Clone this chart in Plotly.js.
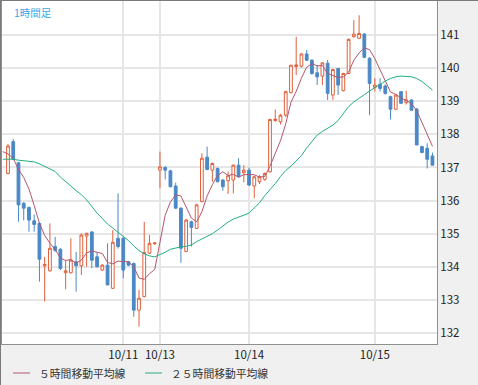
<!DOCTYPE html>
<html>
<head>
<meta charset="utf-8">
<script src="https://cdn.plot.ly/plotly-3.0.1.min.js"></script>
<style>
html,body{margin:0;padding:0;background:#f0f0f0;}
#wrap{position:relative;width:478px;height:385px;}
#chart{width:478px;height:385px;}
#frame{position:absolute;left:0;top:0;width:477px;height:384px;border-left:1px solid #7a7a7a;border-top:1px solid #7a7a7a;pointer-events:none;}
</style>
</head>
<body>
<div id="wrap"><div id="chart"></div><div id="frame"></div></div>
<script>
// 1-hour USD/JPY candles, 10/10 02:00 .. 10/15 11:00 (weekend compressed)
const tickIdx = [22, 29, 46, 70];
const tickLabels = ['10/11', '10/13', '10/14', '10/15'];
const yTicks = [132,133,134,135,136,137,138,139,140,141];

const open = [136.82,137.78,137.14,135.92,135.79,135.39,135.31,134.03,133.88,134.61,
134.53,133.82,133.82,134.15,134.03,134.93,135.05,134.30,133.90,134.05,
133.35,134.86,134.86,134.15,134.10,132.69,133.10,134.41,134.70,136.92,
137.00,136.90,136.44,135.77,134.46,135.36,135.16,135.97,137.31,136.92,
136.97,136.62,136.60,136.62,137.07,136.84,136.92,136.44,136.57,136.64,
136.87,138.42,138.38,138.58,139.26,140.05,140.06,140.43,140.24,139.86,
139.76,140.15,139.19,139.99,139.32,139.84,140.95,140.90,141.03,140.30,
139.42,139.51,139.46,139.14,138.76,139.29,138.96,139.04,138.76,137.63,
137.58,137.35];
const high = [137.71,137.86,137.17,135.95,135.82,135.58,135.34,134.30,135.31,134.90,
134.56,134.20,134.86,134.45,135.01,135.03,135.08,134.45,134.08,134.71,
135.11,136.22,134.89,134.18,134.13,133.30,135.36,134.96,134.74,137.48,
137.04,136.93,136.54,135.80,135.45,135.39,135.90,137.43,137.63,137.15,
137.00,136.65,136.88,137.09,137.28,137.07,137.00,136.75,136.77,136.85,
138.47,138.75,138.62,139.32,140.10,140.95,140.45,140.55,140.27,140.10,
140.18,140.25,139.98,140.01,139.86,140.90,141.45,141.60,141.06,140.33,
139.70,139.70,139.51,139.17,139.21,139.31,139.32,139.06,138.80,137.66,
137.73,137.45];
const low = [136.79,137.22,135.36,135.40,135.06,135.06,133.55,132.95,133.85,134.45,
133.90,133.32,133.80,133.25,133.75,134.00,133.96,133.98,133.88,133.45,
133.33,134.55,133.65,134.02,132.49,132.19,133.08,134.38,134.66,136.37,
136.64,136.40,135.75,134.12,134.44,134.61,135.14,135.95,136.92,136.57,
136.55,136.30,136.20,136.22,136.70,136.55,136.45,136.07,136.50,136.60,
136.84,138.38,138.30,138.52,139.24,139.79,140.02,140.22,139.80,139.49,
139.49,139.04,139.04,139.19,139.30,139.82,140.92,140.88,140.30,138.58,
139.30,139.30,139.20,138.45,138.74,138.94,138.90,138.73,137.68,137.45,
136.97,137.07];
const close = [137.65,137.25,135.87,135.77,135.41,135.28,134.23,134.07,134.56,134.50,
133.95,133.88,134.20,134.03,134.96,135.01,134.20,134.00,134.05,133.45,
134.74,134.61,133.90,134.05,132.69,133.05,134.43,134.71,134.72,137.02,
136.92,136.42,135.77,134.56,135.41,135.19,135.87,137.28,136.94,137.12,
136.57,136.42,136.75,137.07,136.72,136.92,136.47,136.72,136.72,136.82,
138.45,138.46,138.58,139.29,140.09,140.10,140.43,140.24,139.84,139.74,
140.16,139.24,139.96,139.49,139.84,140.87,141.03,141.05,140.33,139.54,
139.49,139.39,139.24,138.76,139.19,138.94,139.04,138.73,137.68,137.45,
137.25,137.07];
// moving averages (first value is one bar before the first candle)
const ma5 = [137.48, 137.41,137.28,136.94,136.70,136.35,135.85,135.31,134.95,134.71,134.53,
134.26,134.19,134.22,134.11,134.20,134.42,134.48,134.44,134.40,134.13,
134.09,134.17,134.15,134.15,134.00,133.66,133.62,133.79,133.92,134.79,
135.56,135.96,136.17,136.14,135.82,135.47,135.36,135.66,136.14,136.48,
136.76,136.87,136.76,136.79,136.71,136.78,136.79,136.78,136.71,136.73,
137.04,137.43,137.81,138.32,138.97,139.30,139.70,140.03,140.14,140.07,
140.08,139.84,139.79,139.72,139.74,139.88,140.24,140.46,140.62,140.56,
140.29,139.96,139.60,139.28,139.21,139.10,139.03,138.93,138.72,138.37,
138.03,137.64];
const ma25 = [137.25, 137.26,137.25,137.22,137.20,137.19,137.17,137.11,137.04,136.97,136.88,
136.71,136.56,136.44,136.30,136.18,136.02,135.82,135.62,135.46,135.29,
135.17,135.04,134.91,134.79,134.63,134.49,134.39,134.33,134.30,134.36,
134.44,134.53,134.57,134.60,134.62,134.66,134.76,134.84,134.93,135.00,
135.11,135.23,135.35,135.44,135.50,135.56,135.62,135.78,135.93,136.15,
136.32,136.51,136.73,136.91,137.04,137.20,137.36,137.59,137.80,137.98,
138.09,138.19,138.28,138.42,138.64,138.84,138.98,139.10,139.20,139.31,
139.41,139.52,139.61,139.69,139.74,139.76,139.76,139.74,139.69,139.60,
139.47,139.34];

const legendNames = ['５時間移動平均線', '２５時間移動平均線'];
const titleText = '1時間足';

const xs = close.map((_, i) => i);
const maX = ma5.map((_, i) => i - 1);

const C_UP = '#e0603c', C_DN = '#4a88c6', C_MA5 = '#b4566c', C_MA25 = '#22b07e';

const traces = [
  {
    type: 'candlestick', x: xs, open: open, high: high, low: low, close: close,
    increasing: {line: {color: C_UP, width: 1}, fillcolor: '#ffffff'},
    decreasing: {line: {color: C_DN, width: 1}, fillcolor: C_DN},
    whiskerwidth: 0, showlegend: false, hoverinfo: 'skip'
  },
  {type: 'scatter', mode: 'lines', x: maX, y: ma5, line: {color: C_MA5, width: 1}, showlegend: false, hoverinfo: 'skip'},
  {type: 'scatter', mode: 'lines', x: maX, y: ma25, line: {color: C_MA25, width: 1}, showlegend: false, hoverinfo: 'skip'}
];

const W = 478, H = 385, ML = 2, MR = 41, MT = 1, MB = 41;
const PW = W - ML - MR, PH = H - MT - MB;
const px = p => (p - ML) / PW;
const py = p => (H - MB - p) / PH;

const font = 'Noto Sans CJK JP, Noto Sans, sans-serif';

const layout = {
  width: W, height: H,
  margin: {l: ML, r: MR, t: MT, b: MB, pad: 0},
  paper_bgcolor: '#f0f0f0', plot_bgcolor: '#ffffff',
  showlegend: false, boxgap: 0.25,
  font: {family: font, size: 11.5, color: '#222'},
  xaxis: {
    type: 'linear', range: [-1.145, 81.87], tickvals: tickIdx, ticktext: tickLabels,
    showgrid: true, gridcolor: '#e6e6e6', gridwidth: 2, zeroline: false,
    showline: true, mirror: true, linecolor: '#8f8f8f', linewidth: 1,
    ticks: '', rangeslider: {visible: false}, fixedrange: true,
    tickfont: {family: font, size: 11.5, color: '#222'}
  },
  yaxis: {
    side: 'right', range: [131.667, 142.03], tickvals: yTicks, ticktext: yTicks.map(String),
    showgrid: true, gridcolor: '#e6e6e6', gridwidth: 2, zeroline: false,
    showline: true, mirror: true, linecolor: '#8f8f8f', linewidth: 1,
    ticks: '', fixedrange: true,
    tickfont: {family: font, size: 11.5, color: '#222'}
  },
  shapes: [
    {type: 'line', xref: 'paper', yref: 'paper', x0: px(13), x1: px(30), y0: py(373), y1: py(373), line: {color: C_MA5, width: 1}},
    {type: 'line', xref: 'paper', yref: 'paper', x0: px(145), x1: px(162), y0: py(373), y1: py(373), line: {color: C_MA25, width: 1}}
  ],
  annotations: [
    {xref: 'paper', yref: 'paper', x: px(12), y: py(3), xanchor: 'left', yanchor: 'top', showarrow: false,
     text: titleText, font: {family: font, size: 10.5, color: '#3aa6e6'}},
    {xref: 'paper', yref: 'paper', x: px(37), y: py(373), xanchor: 'left', yanchor: 'middle', showarrow: false,
     text: legendNames[0], font: {family: font, size: 10.8, color: '#333'}},
    {xref: 'paper', yref: 'paper', x: px(169), y: py(373), xanchor: 'left', yanchor: 'middle', showarrow: false,
     text: legendNames[1], font: {family: font, size: 10.8, color: '#333'}}
  ]
};

Plotly.newPlot('chart', traces, layout, {displayModeBar: false, staticPlot: true});
</script>
</body>
</html>
